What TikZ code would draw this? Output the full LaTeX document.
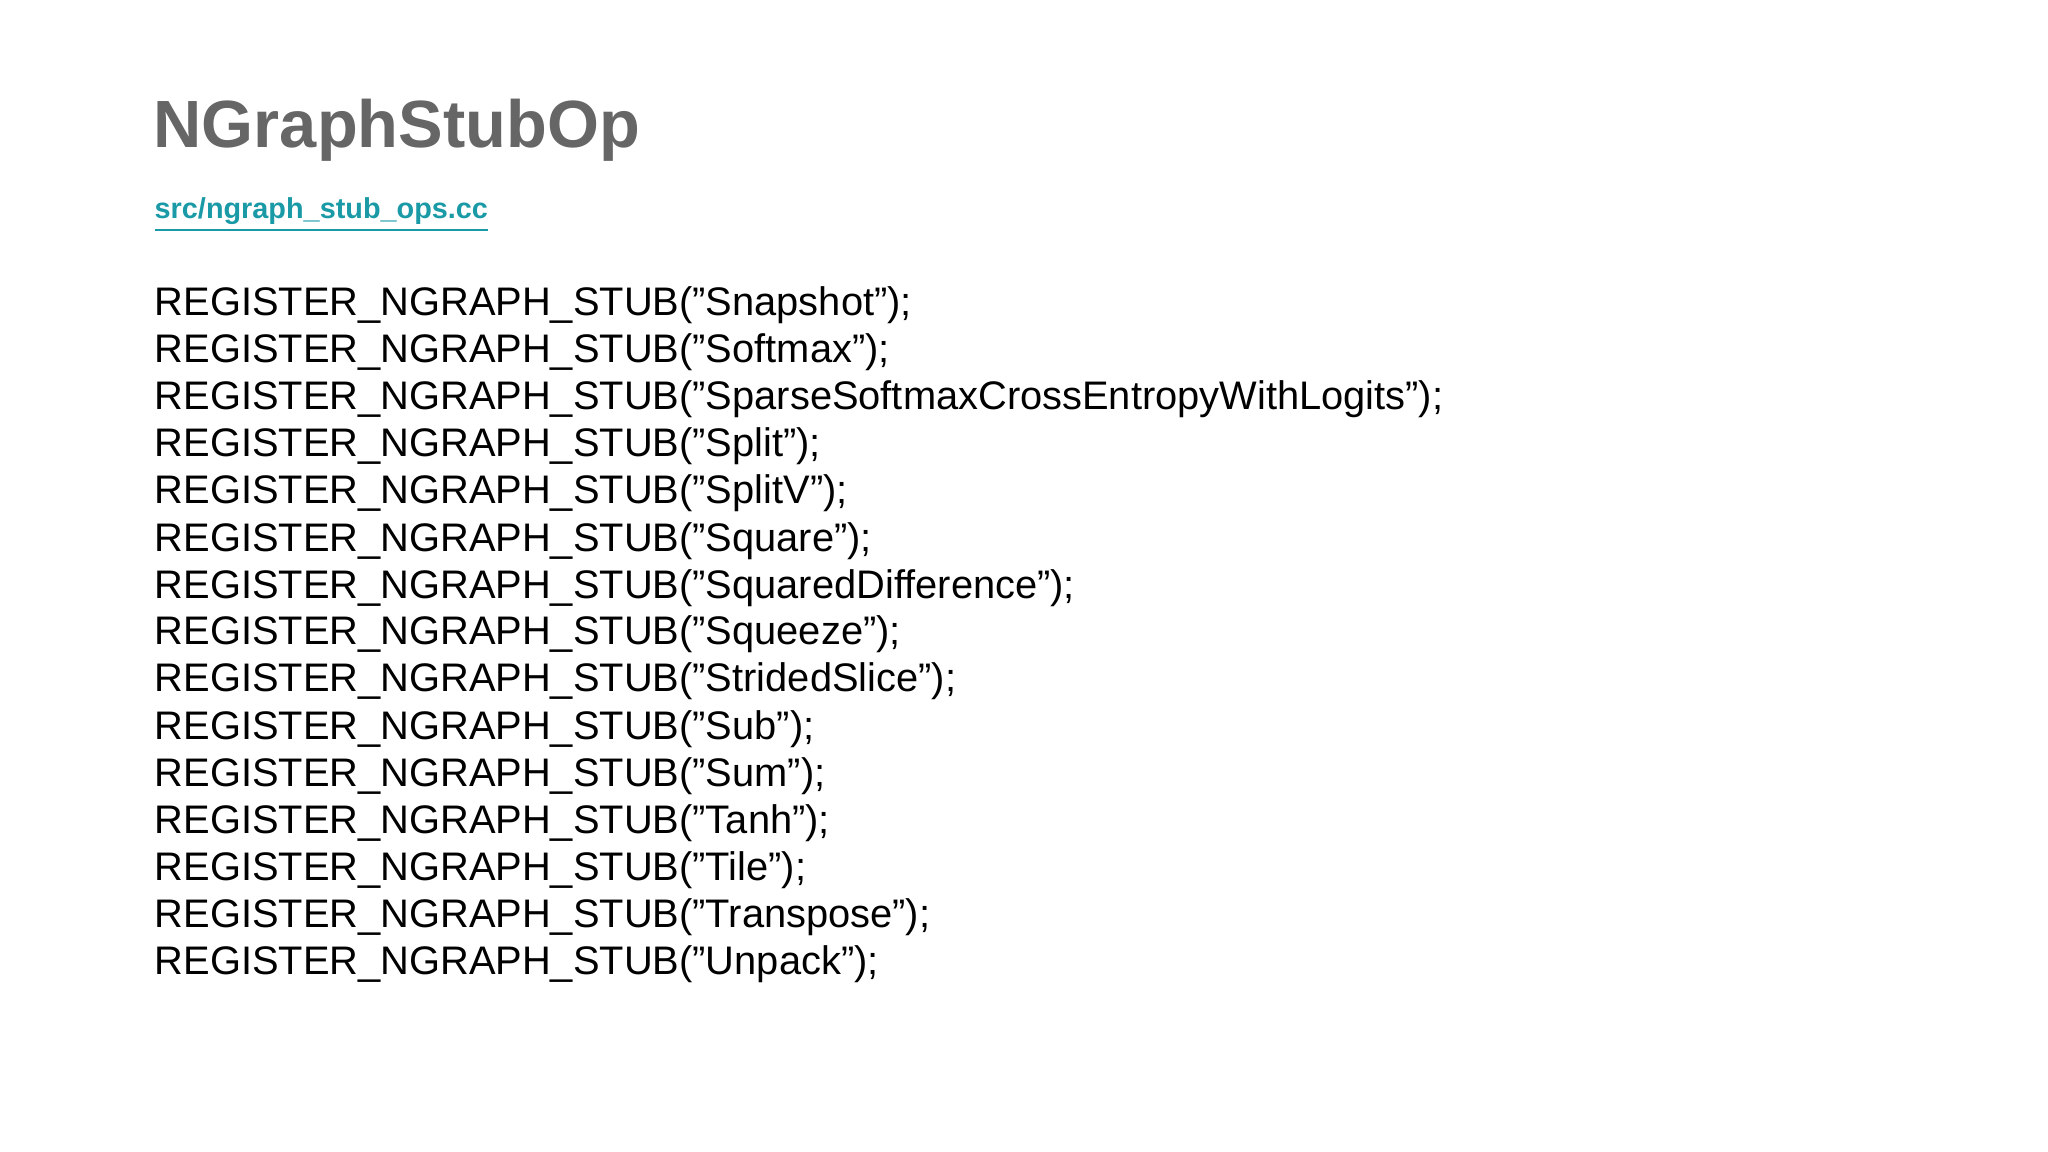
\documentclass[tikz,border=0pt]{standalone}
\usepackage{fontspec}
\setmainfont{Liberation Sans}
\usetikzlibrary{positioning}
\definecolor{titlegray}{HTML}{666666}
\definecolor{linkteal}{HTML}{1A9AA6}
\newcommand{\qq}{\char34\relax}
\tikzset{codeline/.style={anchor=base west,inner sep=0pt,font=\fontsize{11.33pt}{14pt}\selectfont}}
\begin{document}
\begin{tikzpicture}[x=0.01cm,y=-0.01cm]
\useasboundingbox[fill=white] (0,0) rectangle (2048,1152);
\node[anchor=base west,inner sep=0pt,text=titlegray,font=\bfseries\fontsize{19pt}{24pt}\selectfont] (title) at (153,148) {NGraphStubOp};
\node[anchor=base west,inner sep=0pt,text=linkteal,font=\bfseries\fontsize{8.2pt}{10pt}\selectfont] (link) at (154,219) {\underline{src/ngraph\_stub\_ops.cc}};
\foreach \n [count=\i from 0] in {Snapshot,Softmax,SparseSoftmaxCrossEntropyWithLogits,Split,SplitV,Square,SquaredDifference,Squeeze,StridedSlice,Sub,Sum,Tanh,Tile,Transpose,Unpack}{
  \node[codeline] (l\i) at (154,{316+47.0*\i}) {REGISTER\_NGRAPH\_STUB(\qq\n\qq);};
}
\end{tikzpicture}
\end{document}
